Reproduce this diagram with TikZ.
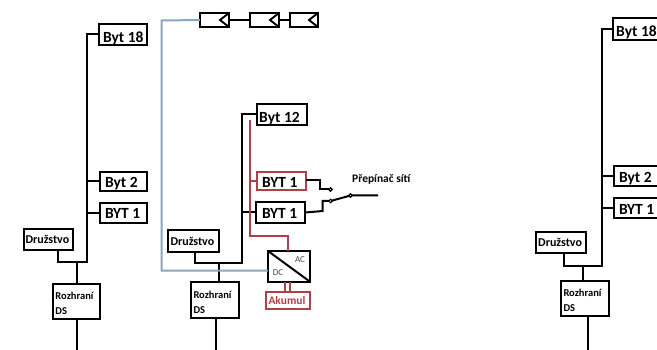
\documentclass[tikz,border=0pt]{standalone}
\usepackage{fontspec}
\setmainfont{Carlito}
\definecolor{redw}{RGB}{178,62,72}
\definecolor{bluew}{RGB}{138,165,190}
\definecolor{labg}{RGB}{70,70,70}
\tikzset{
  wire/.style={draw=black,line width=2pt},
  redwire/.style={draw=redw,line width=2pt},
  bluewire/.style={draw=bluew,line width=2pt},
  box/.style={draw=black,line width=2pt,fill=white,anchor=north west,inner xsep=2.5pt,inner ysep=0pt,outer sep=0pt,align=flush left,font=\bfseries},
  big/.style={font=\bfseries\fontsize{15.5}{16}\selectfont},
  mid/.style={font=\bfseries\fontsize{11.5}{14}\selectfont},
  small/.style={font=\bfseries\fontsize{12}{15}\selectfont},
  tiny/.style={font=\bfseries\fontsize{10.5}{15}\selectfont},
  redbox/.style={draw=redw},
  pv/.style={draw=black,line width=2pt,fill=white,anchor=north west,inner sep=0pt,outer sep=0pt},
  contact/.style={circle,draw=black,line width=1.1pt,fill=white,inner sep=0pt,minimum size=3.5pt,outer sep=0pt},
  lab/.style={inner sep=0pt,font=\fontsize{9}{10}\selectfont,text=labg}
}
\newcommand\bt[3]{\hspace*{#1pt}\raisebox{-#2pt}[0pt][0pt]{#3}}
\newcommand\bx[7]{%
  \pgfmathsetmacro\bw{#4-#2}\pgfmathsetmacro\bh{#5-#3}\pgfmathsetmacro\tw{#4-#2-5}%
  \node[box,#6,minimum width=\bw pt,minimum height=\bh pt,text width=\tw pt] (#1) at (#2,#3) {#7};}
\newcommand\pvp[5]{%
  \pgfmathsetmacro\bw{#4-#2}\pgfmathsetmacro\bh{#5-#3}%
  \node[pv,minimum width=\bw pt,minimum height=\bh pt] (#1) at (#2,#3) {};}
\begin{document}
\begin{tikzpicture}[x=1pt,y=-1pt]
\useasboundingbox (0,0) rectangle (657,350);
\clip (0,0) rectangle (657,350);
% ---------- left group
\bx{la}{99}{24}{147}{45}{big}{\bt{1.5}{8}{Byt 18}}
\bx{lb}{99.5}{172}{147}{191}{big}{\bt{3}{6.5}{Byt 2}}
\bx{lc}{99.5}{203}{147}{223}{big}{\bt{3}{6}{BYT 1}}
\bx{ld}{24}{229}{73}{250}{small}{\hspace*{-1pt}Družstvo}
\bx{le}{53}{284}{100}{319}{tiny}{\rule{0pt}{12pt}Rozhraní\\DS}
\coordinate (ltr) at (86.5,262);
\coordinate (ldr) at (57.5,262);
\coordinate (lmd) at (77,262);
\coordinate (lbt) at (77,350);
\draw[wire] (la.west) -| (ltr) -- (ldr) -- (ld.south -| ldr);
\draw[wire] (lb.west) -- (lb.west -| ltr);
\draw[wire] (lc.west) -- (lc.west -| ltr);
\draw[wire] (lmd) -- (le.north -| lmd);
\draw[wire] (le.south -| lbt) -- (lbt);
% ---------- middle group: wires
\coordinate (mtr) at (241.5,263.5);
\coordinate (mdr) at (195,263.5);
\coordinate (mmd) at (218.5,263.5);
\coordinate (mbt) at (215.7,350);
\coordinate (bl1) at (161.5,20.5);
\coordinate (bl2) at (161.5,270.7);
\coordinate (rtop) at (250,120);
\coordinate (rbend) at (250,235.7);
\coordinate (rin) at (288,235.7);
\coordinate (ra) at (285,282);
\coordinate (rb) at (290,282);
\coordinate (s1a) at (320,180);
\coordinate (s1b) at (320,189.5);
\coordinate (s2a) at (322.7,211);
\coordinate (s2b) at (322.7,201);
\coordinate (out) at (378,195.5);
\bx{mb}{256.7}{104}{307}{125}{big}{\bt{0}{8.5}{Byt 12}}
\bx{mr}{256.7}{172}{305.5}{190.5}{big,redbox}{\bt{3}{6}{BYT 1}}
\bx{mk}{256}{202}{305}{223}{big}{\bt{3.5}{6}{BYT 1}}
\bx{md}{168}{230}{218.5}{252}{small}{Družstvo}
\bx{mo}{191}{282}{239}{318}{tiny}{\rule{0pt}{12pt}Rozhraní\\DS}
\node[draw=black,line width=2pt,fill=white,anchor=north west,inner sep=0pt,outer sep=0pt,minimum width=42pt,minimum height=30.7pt] (conv) at (268,251) {};
\bx{ak}{266}{291.7}{310}{309}{mid,redbox,text=redw}{Akumul}
\pvp{p1}{200}{13}{229}{27}
\pvp{p2}{250}{13}{279}{27}
\pvp{p3}{289.5}{13}{318}{27}
\draw[line width=1.9pt] (p1.north east) -- ([xshift=-9pt]p1.east) -- (p1.south east);
\draw[line width=1.9pt] (p2.north east) -- ([xshift=-9pt]p2.east) -- (p2.south east);
\draw[line width=1.9pt] (p3.north east) -- ([xshift=-9pt]p3.east) -- (p3.south east);
\draw[wire] (p1.east) -- (p2.west);
\draw[wire] (p2.east) -- (p3.west);
\draw[wire] (mb.west) -| (mtr) -- (mdr) -- (md.south -| mdr);
\draw[wire] (mk.west) -- (mk.west -| mtr);
\draw[wire] (mmd) -- (mo.north -| mmd);
\draw[wire] (mo.south -| mbt) -- (mbt);
\draw[bluewire] (p1.west) -- (bl1) -- (bl2) -- (conv.west |- bl2);
\draw[redwire] (rtop) -- (rbend) -- (rin) -- (conv.north -| rin);
\draw[redwire] (mr.west) -- (mr.west -| rtop);
\draw[redwire] (ra) -- (ak.north -| ra);
\draw[redwire] (rb) -- (ak.north -| rb);
\draw[line width=2pt] (conv.north west) -- (conv.south east);
\node[lab] (acl) at (300,259.5) {AC};
\node[lab] (dcl) at (278,273) {DC};
% switch
\draw[wire] (mr.east |- s1a) -- (s1a) -- (s1b) -- (330.5,189.5);
\draw[wire] (mk.east) -- (s2a) -- (s2b) -- (330.7,201);
\draw[wire] (330.7,201) -- (350.5,195.5) -- (out);
\node[contact] (c1) at (330.5,189.5) {};
\node[contact] (c2) at (330.7,201) {};
\node[contact] (c3) at (350.5,195.5) {};
\node[anchor=west,inner sep=0pt,font=\bfseries\fontsize{11.5}{12}\selectfont] (sw) at (352,179) {Přepínač sítí};
% ---------- right group
\bx{ra1}{612.7}{18}{680}{40}{big}{\bt{1}{8}{Byt 18}}
\bx{rb1}{613.5}{166}{680}{186}{big}{\bt{3}{6.5}{Byt 2}}
\bx{rc1}{613.5}{198}{680}{218}{big}{\bt{3}{6}{BYT 1}}
\bx{rd1}{535.7}{232}{586}{253}{small}{Družstvo}
\bx{re1}{561}{281}{609}{316}{tiny}{\rule{0pt}{12pt}Rozhraní\\DS}
\coordinate (rtr) at (602,266);
\coordinate (rdr) at (564,266);
\coordinate (rmd) at (583,266);
\coordinate (rbt) at (587.7,350);
\draw[wire] (ra1.west) -| (rtr) -- (rdr) -- (rd1.south -| rdr);
\draw[wire] (rb1.west) -- (rb1.west -| rtr);
\draw[wire] (rc1.west) -- (rc1.west -| rtr);
\draw[wire] (rmd) -- (re1.north -| rmd);
\draw[wire] (re1.south -| rbt) -- (rbt);
\end{tikzpicture}
\end{document}
